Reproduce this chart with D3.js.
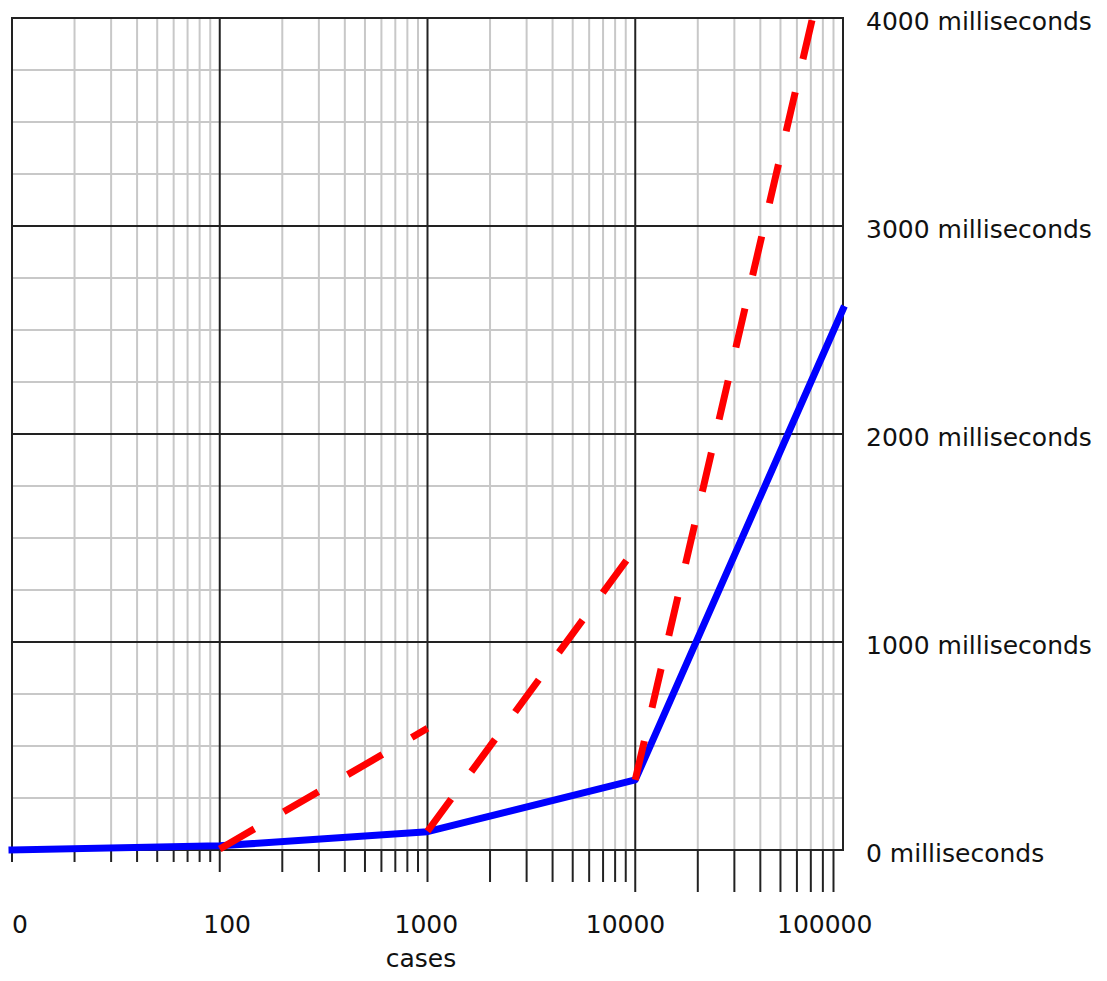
<!DOCTYPE html>
<html>
<head>
<meta charset="utf-8">
<script src="https://cdn.jsdelivr.net/npm/d3@7"></script>
<style>
  html, body { margin: 0; padding: 0; background: #fff; }
  svg { display: block; }
  text { font-family: "DejaVu Sans", sans-serif; fill: #111; }
</style>
</head>
<body>
<script>
// ---- data ----
const cases = [10, 100, 1000, 10000, 100000];
const blueMs = [0, 20, 88, 337, 2600];
// red dashed: three separate segments, each from one decade to the next
const redFromCases = [100, 1000, 10000];
const redFromMs = [5, 90, 337];
const redToCases = [1000, 10000, 100000];
const redToMs = [585, 1450, 4630];
const xTickLabels = ["0", "100", "1000", "10000", "100000"];
const yTickValues = [0, 1000, 2000, 3000, 4000];
const yTickLabels = ["0 milliseconds", "1000 milliseconds", "2000 milliseconds", "3000 milliseconds", "4000 milliseconds"];
const xAxisTitle = "cases";

(function () {
// ---- layout ----
const W = 1107, H = 981;
const pL = 12, pR = 843, pT = 18, pB = 850;

const svg = d3.select("body").append("svg").attr("width", W).attr("height", H);
svg.append("rect").attr("width", W).attr("height", H).attr("fill", "#fff");

const x = d3.scaleLog().domain([10, 100000]).range([pL, pR]);
const y = d3.scaleLinear().domain([0, 4000]).range([pB, pT]);

// minor values
const decades = [10, 100, 1000, 10000];
const minorX = [];
decades.forEach(d => { for (let k = 2; k <= 9; k++) minorX.push(d * k); });
const minorY = d3.range(250, 4000, 250).filter(v => v % 1000 !== 0);

const grid = svg.append("g");
grid.append("g").selectAll("line").data(minorX).join("line")
  .attr("x1", d => x(d)).attr("x2", d => x(d))
  .attr("y1", pT).attr("y2", pB)
  .attr("stroke", "#c8c8c8").attr("stroke-width", 2);
grid.append("g").selectAll("line").data(minorY).join("line")
  .attr("x1", pL).attr("x2", pR)
  .attr("y1", d => y(d)).attr("y2", d => y(d))
  .attr("stroke", "#c8c8c8").attr("stroke-width", 2);

// major grid
grid.append("g").selectAll("line").data(cases).join("line")
  .attr("x1", d => x(d)).attr("x2", d => x(d))
  .attr("y1", pT).attr("y2", pB)
  .attr("stroke", "#222").attr("stroke-width", 2);
grid.append("g").selectAll("line").data(yTickValues).join("line")
  .attr("x1", pL - 1).attr("x2", pR + 1)
  .attr("y1", d => y(d)).attr("y2", d => y(d))
  .attr("stroke", "#222").attr("stroke-width", 2);

// ticks below the axis (length grows per decade)
const tickVals = [10].concat(minorX, [100, 1000, 10000]).sort((a, b) => a - b);
svg.append("g").selectAll("line").data(tickVals).join("line")
  .attr("x1", d => x(d)).attr("x2", d => x(d))
  .attr("y1", pB)
  .attr("y2", d => pB + 12 + 10 * (Math.floor(Math.log10(d) + 1e-9) - 1))
  .attr("stroke", "#222").attr("stroke-width", 2);

// x tick labels (evenly spaced under the axis)
const xl = d3.scalePoint().domain(xTickLabels).range([12, 777]);
svg.append("g").selectAll("text").data(xTickLabels).join("text")
  .attr("x", d => xl(d)).attr("y", 933)
  .attr("font-size", 25).attr("text-anchor", "start")
  .text(d => d);
svg.append("text").attr("x", 421).attr("y", 967)
  .attr("font-size", 25).attr("text-anchor", "middle").text(xAxisTitle);

// y labels on the right
svg.append("g").selectAll("text").data(yTickValues).join("text")
  .attr("x", 866).attr("y", d => y(d) + 12)
  .attr("font-size", 25).attr("text-anchor", "start")
  .text((d, i) => yTickLabels[i]);

// clip
svg.append("clipPath").attr("id", "clip").append("rect")
  .attr("x", 0).attr("y", pT - 4).attr("width", W).attr("height", H);

const line = d3.line().x(d => x(d[0])).y(d => y(d[1]));

// blue solid
svg.append("path")
  .datum(cases.map((c, i) => [c, blueMs[i]]))
  .attr("d", line)
  .attr("fill", "none").attr("stroke", "#0000ff").attr("stroke-width", 7)
  .attr("stroke-linecap", "square").attr("stroke-linejoin", "round");

// red dashed segments
const redSegs = redFromCases.map((c, i) => [[c, redFromMs[i]], [redToCases[i], redToMs[i]]]);
svg.append("g").attr("clip-path", "url(#clip)")
  .selectAll("path").data(redSegs).join("path")
  .attr("d", line)
  .attr("fill", "none").attr("stroke", "#ff0000").attr("stroke-width", 7)
  .attr("stroke-dasharray", "40,34").attr("stroke-linecap", "butt");
})();
</script>
</body>
</html>
